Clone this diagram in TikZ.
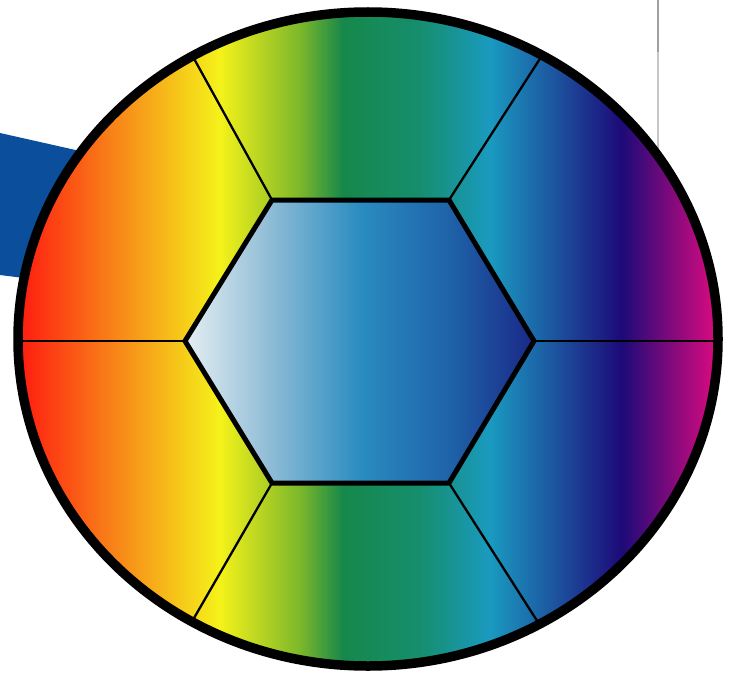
\documentclass[tikz,border=0pt]{standalone}
\usetikzlibrary{calc}
\definecolor{bandblue}{HTML}{0B4F9C}
\definecolor{rA}{HTML}{FF1A10}
\definecolor{rB}{HTML}{F88018}
\definecolor{rC}{HTML}{F5F21A}
\definecolor{rD}{HTML}{7DB82A}
\definecolor{rE}{HTML}{16884A}
\definecolor{rF}{HTML}{168E6E}
\definecolor{rG}{HTML}{1A9AC0}
\definecolor{rH}{HTML}{1C4E9C}
\definecolor{rI}{HTML}{1C0A78}
\definecolor{rJ}{HTML}{E00A80}
\definecolor{hA}{HTML}{E6EFF3}
\definecolor{hB}{HTML}{8EBCD6}
\definecolor{hC}{HTML}{2A8CC0}
\definecolor{hD}{HTML}{1E62A8}
\definecolor{hE}{HTML}{1A2888}
\pgfdeclarehorizontalshading{ringshade}{100bp}{color(0bp)=(rA); color(25bp)=(rA); color(31.6bp)=(rB); color(39.4bp)=(rC); color(45.1bp)=(rD); color(48.2bp)=(rE); color(53.7bp)=(rF); color(58.7bp)=(rG); color(63.7bp)=(rH); color(68.1bp)=(rI); color(75bp)=(rJ); color(100bp)=(rJ)}
\pgfdeclarehorizontalshading{hexshade}{100bp}{color(0bp)=(hA); color(25bp)=(hA); color(37.2bp)=(hB); color(50.1bp)=(hC); color(63.1bp)=(hD); color(75bp)=(hE); color(100bp)=(hE)}
\tikzset{
  rim/.style={line width=9.5pt, draw=black},
  spoke/.style={line width=2.3pt, draw=black},
  hexline/.style={line width=5pt, draw=black, line join=miter},
}
\begin{document}
\begin{tikzpicture}[x=1pt,y=-1pt]
\useasboundingbox (0,0) rectangle (743,674);
% background band and grey rule
\fill[bandblue] (0,133) -- (120,160) -- (120,290) -- (0,275) -- cycle;
\draw[gray!75, line width=2pt] (657.5,0) -- (657.5,52);
\draw[gray!45, line width=2pt] (657.5,52) -- (657.5,150);
% hexagon vertices
\coordinate (hl) at (185,341);
\coordinate (htl) at (272,200);
\coordinate (htr) at (449,200);
\coordinate (hr) at (534,341);
\coordinate (hbr) at (449,483);
\coordinate (hbl) at (272,483);
% spoke ends on the rim
\coordinate (ol) at (15,341);
\coordinate (otl) at (192,55);
\coordinate (otr) at (543,54);
\coordinate (or) at (722,341);
\coordinate (obr) at (541,627);
\coordinate (obl) at (190,625);
% ring fill
\shade[shading=ringshade] (368,339) ellipse [x radius=350, y radius=327];
% spokes
\draw[spoke] (hl) -- (ol);
\draw[spoke] (htl) -- (otl);
\draw[spoke] (htr) -- (otr);
\draw[spoke] (hr) -- (or);
\draw[spoke] (hbr) -- (obr);
\draw[spoke] (hbl) -- (obl);
% hexagon
\shade[shading=hexshade] (hl) -- (htl) -- (htr) -- (hr) -- (hbr) -- (hbl) -- cycle;
\draw[hexline] (hl) -- (htl) -- (htr) -- (hr) -- (hbr) -- (hbl) -- cycle;
% rim
\draw[rim] (368,339) ellipse [x radius=350, y radius=327];
\end{tikzpicture}
\end{document}
